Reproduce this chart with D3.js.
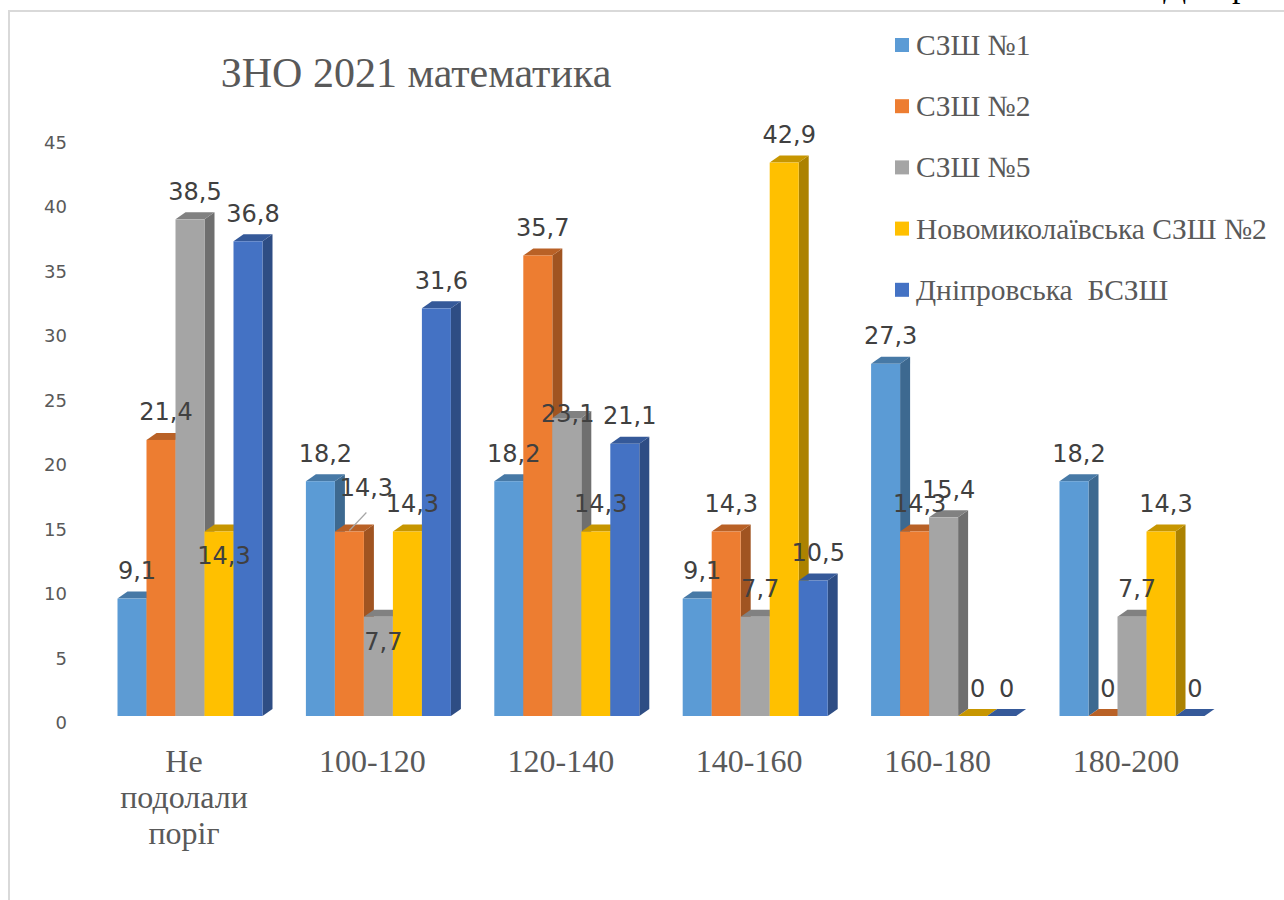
<!DOCTYPE html>
<html>
<head>
    <meta charset="utf-8">
    <script src="https://d3js.org/d3.v7.min.js"></script>
    <style>
        body { margin: 0; background: #fff; }
        svg { display: block; }
    </style>
</head>
<body>
    <svg width="1284" height="900"></svg>
    <script>

        // data
        var categories = ["Не подолали поріг", "100-120", "120-140", "140-160", "160-180", "180-200"];
        var seriesNames = ["СЗШ №1", "СЗШ №2", "СЗШ №5", "Новомиколаївська СЗШ №2", "Дніпровська  БСЗШ"];
        var szsh1 = [9.1, 18.2, 18.2, 9.1, 27.3, 18.2];
        var szsh2 = [21.4, 14.3, 35.7, 14.3, 14.3, 0];
        var szsh5 = [38.5, 7.7, 23.1, 7.7, 15.4, 7.7];
        var novomyk = [14.3, 14.3, 14.3, 42.9, 0, 14.3];
        var dnipro = [36.8, 31.6, 21.1, 10.5, 0, 0];
        var yTicks = [0, 5, 10, 15, 20, 25, 30, 35, 40, 45];
        var colors = ["#5B9BD5", "#ED7D31", "#A5A5A5", "#FFC000", "#4472C4"];

        var values = [szsh1, szsh2, szsh5, novomyk, dnipro];

        var svg = d3.select("svg");
        var textColor = "#595959";
        var serif = "Liberation Serif, Times New Roman, serif";
        var sans = "DejaVu Sans, sans-serif";

        // frame
        svg.append("path")
           .attr("d", "M8,11H1284M9,11V900")
           .attr("fill", "none")
           .attr("stroke", "#d9d9d9")
           .attr("stroke-width", 2);

        // cut-off text above the frame
        svg.append("text").attr("x", 1163).attr("y", -3).text("Д")
           .attr("font-family", serif).attr("font-size", 34).attr("fill", "#000");
        svg.append("text").attr("x", 1232).attr("y", -3).text("р")
           .attr("font-family", serif).attr("font-size", 34).attr("fill", "#000");

        // scales
        var x0 = d3.scalePoint().domain(categories).range([190, 1132]);
        var x1 = d3.scaleBand().domain(seriesNames).range([-72.5, 72.5]);
        var y = d3.scaleLinear().domain([0, 45]).range([716, 135.5]);
        var bw = x1.bandwidth();
        var dx = 10, dy = 7;

        // title
        svg.append("text")
           .attr("x", 416).attr("y", 87)
           .attr("text-anchor", "middle")
           .text("ЗНО 2021 математика")
           .attr("font-family", serif).attr("font-size", 42)
           .attr("fill", textColor);

        // y tick labels
        svg.append("g").selectAll("text")
           .data(yTicks)
           .enter().append("text")
           .attr("x", 67)
           .attr("y", function(d) { return y(d) + 13; })
           .attr("text-anchor", "end")
           .text(function(d) { return d; })
           .attr("font-family", sans).attr("font-size", 18)
           .attr("fill", textColor);

        // category labels
        var catG = svg.append("g");
        categories.forEach(function(c, i) {
            var words = i === 0 ? ["Не", "подолали", "поріг"] : [c];
            var t = catG.append("text")
                .attr("text-anchor", "middle")
                .attr("font-family", serif).attr("font-size", 32)
                .attr("fill", textColor);
            words.forEach(function(w, k) {
                t.append("tspan")
                 .attr("x", x0(c) - 6)
                 .attr("y", 772 + k * 36)
                 .text(w);
            });
        });

        // bars
        var bars = [];
        categories.forEach(function(c, i) {
            seriesNames.forEach(function(s, j) {
                bars.push({cat: c, ci: i, ser: s, si: j, v: values[j][i]});
            });
        });

        var barG = svg.append("g");
        var b = barG.selectAll("g.bar")
            .data(bars)
            .enter().append("g").attr("class", "bar");

        function x(d) { return x0(d.cat) + x1(d.ser); }

        // side face
        b.append("path")
         .attr("d", function(d) {
             var xr = x(d) + bw, yt = y(d.v), yb = y(0);
             return "M" + xr + "," + yt + "L" + (xr + dx) + "," + (yt - dy) +
                    "L" + (xr + dx) + "," + (yb - dy) + "L" + xr + "," + yb + "Z";
         })
         .attr("fill", function(d) { return d3.color(colors[d.si]).darker(1.1); });

        // top face
        b.append("path")
         .attr("d", function(d) {
             var xl = x(d), yt = y(d.v);
             return "M" + xl + "," + yt + "L" + (xl + dx) + "," + (yt - dy) +
                    "L" + (xl + bw + dx) + "," + (yt - dy) + "L" + (xl + bw) + "," + yt + "Z";
         })
         .attr("fill", function(d) { return d3.color(colors[d.si]).darker(0.7); });

        // front face
        b.append("rect")
         .attr("x", x)
         .attr("y", function(d) { return y(d.v); })
         .attr("width", bw)
         .attr("height", function(d) { return y(0) - y(d.v); })
         .attr("fill", function(d) { return colors[d.si]; });

        // data labels (a few were moved by hand in the original)
        var nudge = {"0-3": [0, 52], "1-1": [12, -16], "1-2": [0, 53], "2-2": [-4, 23]};

        svg.append("line")
           .attr("x1", x0(categories[1]) + x1(seriesNames[1]) + bw / 2)
           .attr("y1", y(szsh2[1]) - 1)
           .attr("x2", x0(categories[1]) + x1(seriesNames[1]) + bw / 2 + 17)
           .attr("y2", y(szsh2[1]) - 19)
           .attr("stroke", "#a6a6a6")
           .attr("stroke-width", 1.2);

        svg.append("g").selectAll("text")
           .data(bars)
           .enter().append("text")
           .attr("x", function(d) {
               var n = nudge[d.ci + "-" + d.si] || [0, 0];
               return x(d) + bw / 2 + 5 + n[0];
           })
           .attr("y", function(d) {
               var n = nudge[d.ci + "-" + d.si] || [0, 0];
               return y(d.v) - 19.5 + n[1];
           })
           .attr("text-anchor", "middle")
           .text(function(d) { return String(d.v).replace(".", ","); })
           .attr("font-family", sans).attr("font-size", 24)
           .attr("fill", "#404040");

        // legend
        var leg = svg.append("g").selectAll("g")
            .data(seriesNames)
            .enter().append("g")
            .attr("transform", function(d, i) { return "translate(895," + (45 + i * 61.2) + ")"; });

        leg.append("rect")
           .attr("x", 0).attr("y", -7)
           .attr("width", 14).attr("height", 14)
           .attr("fill", function(d, i) { return colors[i]; });

        leg.append("text")
           .attr("x", 21).attr("y", 10)
           .style("white-space", "pre")
           .text(function(d) { return d; })
           .attr("font-family", serif).attr("font-size", 29.5)
           .attr("fill", textColor);

    </script>
</body>
</html>
